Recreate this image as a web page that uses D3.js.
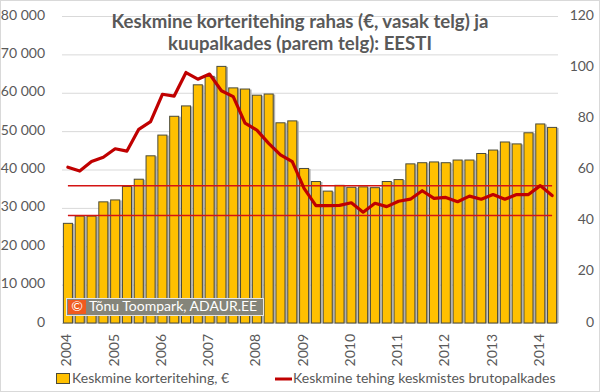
<!DOCTYPE html>
<html lang="et">
<head>
<meta charset="UTF-8">
<title>Keskmine korteritehing</title>
<script src="https://d3js.org/d3.v7.min.js"></script>
<style>
  body { margin: 0; background: #fff; }
  svg { display: block; font-family: Lato, "Liberation Sans", sans-serif; }
  .tick { fill: #595959; font-size: 14px; }
</style>
</head>
<body>
<svg width="600" height="392"></svg>
<script>
// aastad ja kvartalid (2004 K1 ... 2014 K2)
const years = ["2004", "2005", "2006", "2007", "2008", "2009", "2010", "2011", "2012", "2013", "2014"];
const quarters = [];
years.forEach(y => ["K1", "K2", "K3", "K4"].forEach(q => quarters.push(y + " " + q)));
quarters.length = 42;

// keskmine korteritehing, € (vasak telg)
const avgDeal = [26100, 28000, 28000, 31700, 32200, 35700, 37600, 43700, 49100, 54000,
                 56700, 62200, 64400, 67000, 61400, 61100, 59500, 59800, 52300, 52800,
                 40400, 37000, 34500, 36000, 35500, 35600, 35400, 37000, 37500, 41600,
                 41900, 42100, 41900, 42600, 42600, 44300, 45200, 47300, 46800, 49700,
                 52000, 51100];

// keskmine tehing keskmistes brutopalkades (parem telg)
const inWages = [60.9, 59.4, 63.1, 64.8, 68.1, 67.2, 75.7, 78.7, 89.4, 88.7,
                 97.9, 95.3, 97.3, 90.8, 88.5, 78.1, 75.4, 70.2, 65.7, 63.1,
                 52.6, 45.9, 45.9, 46.0, 47.0, 43.3, 46.8, 45.5, 47.6, 48.4,
                 51.7, 48.7, 49.1, 47.4, 49.6, 48.4, 50.2, 48.4, 50.2, 50.2,
                 53.7, 49.8];

// kaks horisontaalset joont (parem telg)
const refLines = [53.6, 42.0];

const leftTicks = [0, 10000, 20000, 30000, 40000, 50000, 60000, 70000, 80000];
const rightTicks = [0, 20, 40, 60, 80, 100, 120];

const svg = d3.select("svg");
const plotL = 62, plotR = 558, plotT = 16, plotB = 323;

const x = d3.scaleBand().domain(quarters).range([plotL, plotR]).paddingInner(0.15).paddingOuter(0.075);
const yL = d3.scaleLinear().domain([0, 80000]).range([plotB, plotT]);
const yR = d3.scaleLinear().domain([0, 120]).range([plotB, plotT]);
const fmt = d => d3.format(",")(d).replace(/,/g, " ");
const cx = d => x(d) + x.bandwidth() / 2;

// raam
svg.append("rect").attr("x", 0.5).attr("y", 0.5).attr("width", 599).attr("height", 391)
  .attr("fill", "#fff").attr("stroke", "#d9d9d9");

// ruudustik
svg.append("g").selectAll("line").data(leftTicks).enter().append("line")
  .attr("x1", plotL).attr("x2", plotR)
  .attr("y1", d => yL(d) + 0.5).attr("y2", d => yL(d) + 0.5)
  .attr("stroke", "#d9d9d9").attr("stroke-width", 1);

// telgede sildid
svg.append("g").selectAll("text").data(leftTicks).enter().append("text")
  .attr("class", "tick").attr("x", 45).attr("y", d => yL(d))
  .attr("text-anchor", "end").attr("dominant-baseline", "middle")
  .text(fmt);

svg.append("g").selectAll("text").data(rightTicks).enter().append("text")
  .attr("class", "tick").attr("x", 594).attr("y", d => yR(d))
  .attr("text-anchor", "end").attr("dominant-baseline", "middle")
  .text(d => d);

svg.append("g").selectAll("text").data(years).enter().append("text")
  .attr("class", "tick")
  .attr("transform", d => `translate(${cx(d + " K1")},334) rotate(-90)`)
  .attr("text-anchor", "end").attr("dominant-baseline", "middle")
  .text(d => d);

// tulbad (vari + tulp)
const bars = svg.append("g");
bars.selectAll("rect.shadow").data(avgDeal).enter().append("rect")
  .attr("class", "shadow")
  .attr("x", (d, i) => x(quarters[i]) + 1.5).attr("y", d => yL(d) + 1)
  .attr("width", x.bandwidth()).attr("height", d => plotB - yL(d) - 1)
  .attr("fill", "#b0b0b0");
bars.selectAll("rect.bar").data(avgDeal).enter().append("rect")
  .attr("class", "bar")
  .attr("x", (d, i) => x(quarters[i]) + 0.5).attr("y", d => yL(d) + 0.5)
  .attr("width", x.bandwidth() - 1).attr("height", d => plotB - yL(d) - 0.5)
  .attr("fill", "#FFC000").attr("stroke", "#4a4a3a").attr("stroke-width", 1);

// horisontaalsed punased jooned
svg.append("g").selectAll("line").data(refLines).enter().append("line")
  .attr("x1", cx(quarters[0])).attr("x2", cx(quarters[quarters.length - 1]))
  .attr("y1", d => yR(d)).attr("y2", d => yR(d))
  .attr("stroke", "#d41414").attr("stroke-width", 1.5);

// palgajoon
const line = d3.line().x((d, i) => cx(quarters[i])).y(d => yR(d));
svg.append("path").datum(inWages)
  .attr("d", line)
  .attr("fill", "none").attr("stroke", "#C00000").attr("stroke-width", 3.2)
  .attr("stroke-linejoin", "round").attr("stroke-linecap", "round");

// vesimärk
const wm = svg.append("g");
wm.append("rect").attr("x", 66.5).attr("y", 298.5).attr("width", 197).attr("height", 17)
  .attr("fill", "#85857a").attr("stroke", "#e6e6e6").attr("stroke-width", 1);
wm.append("rect").attr("x", 68).attr("y", 300).attr("width", 18).attr("height", 14)
  .attr("fill", "#f05a1e");
wm.append("text").attr("x", 77).attr("y", 307.5).attr("text-anchor", "middle")
  .attr("dominant-baseline", "middle").attr("fill", "#fff")
  .style("font-size", "14px").text("©");
wm.append("text").attr("x", 89).attr("y", 307.5)
  .attr("dominant-baseline", "middle").attr("fill", "#fff")
  .style("font-size", "14px").text("Tõnu Toompark, ADAUR.EE");

// pealkiri
const title = [
  { t: "Keskmine korteritehing rahas (€, vasak telg) ja", y: 23, w: 377 },
  { t: "kuupalkades (parem telg): EESTI", y: 45, w: 264 }
];
title.forEach(l => {
  const el = svg.append("text").attr("x", 300).attr("y", l.y)
    .attr("text-anchor", "middle").attr("dominant-baseline", "middle")
    .attr("fill", "#595959").style("font-weight", "bold").style("font-size", "17px")
    .text(l.t);
  const w = el.node().getComputedTextLength();
  el.style("font-size", (17 * l.w / w).toFixed(2) + "px");
});

// legend
const lg = svg.append("g");
lg.append("rect").attr("x", 56.5).attr("y", 373.5).attr("width", 13).attr("height", 10)
  .attr("fill", "#FFC000").attr("stroke", "#4a4a3a");
lg.append("text").attr("x", 72).attr("y", 379).attr("dominant-baseline", "middle")
  .attr("fill", "#595959").style("font-size", "14px").text("Keskmine korteritehing, €");
lg.append("line").attr("x1", 275).attr("x2", 292).attr("y1", 379).attr("y2", 379)
  .attr("stroke", "#C00000").attr("stroke-width", 3);
lg.append("text").attr("x", 293).attr("y", 379).attr("dominant-baseline", "middle")
  .attr("fill", "#595959").style("font-size", "14px").text("Keskmine tehing keskmistes brutopalkades");
</script>
</body>
</html>
